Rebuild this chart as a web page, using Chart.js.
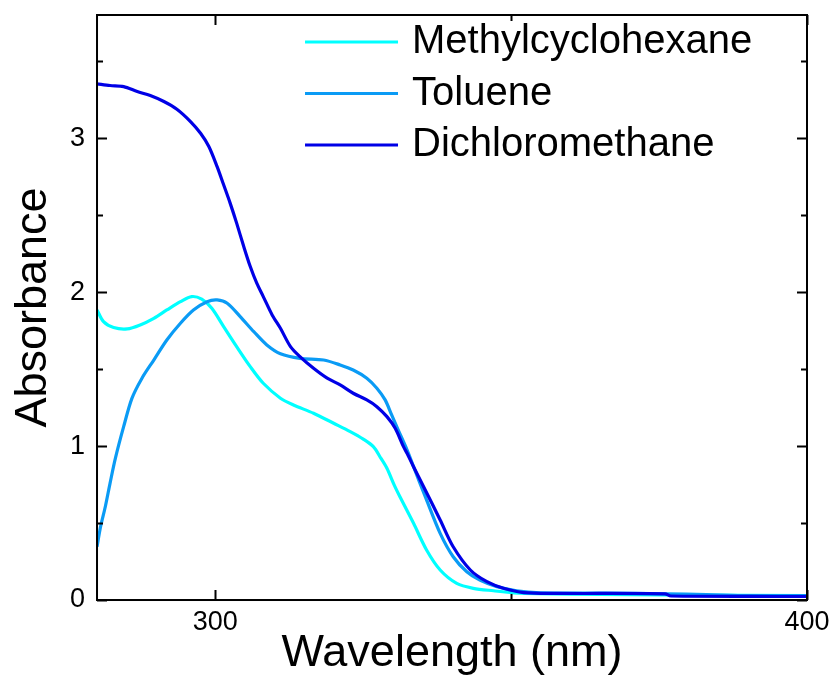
<!DOCTYPE html>
<html>
<head>
<meta charset="utf-8">
<script src="https://cdn.jsdelivr.net/npm/chart.js@4.4.1/dist/chart.umd.min.js"></script>
<style>
  html, body { margin: 0; padding: 0; background: #fff; }
  #wrap { width: 836px; height: 684px; position: relative; }
</style>
</head>
<body>
<div id="wrap"><canvas id="absChart"></canvas></div>
<script>
const FONT = "'Liberation Sans', Arial, Helvetica, sans-serif";

// wavelength (nm) / absorbance pairs for each solvent
const mchWl  = [280, 281.1, 282.8, 285.1, 287.3, 289.6, 291.8, 294.1, 296.0, 297.7, 299.4, 301.4, 303.6, 305.9, 308.1, 311.0, 313.2, 316.6, 320.0, 322.8, 325.0, 326.7, 328.0, 329.0, 330.2, 331.2, 333.5, 335.7, 338.0, 340.8, 343.6, 347.0, 350.4, 360, 380, 400];
const mchAbs = [1.884, 1.808, 1.770, 1.761, 1.787, 1.830, 1.884, 1.938, 1.971, 1.954, 1.895, 1.776, 1.646, 1.516, 1.408, 1.311, 1.267, 1.213, 1.148, 1.094, 1.045, 0.996, 0.920, 0.856, 0.750, 0.671, 0.498, 0.325, 0.195, 0.108, 0.076, 0.060, 0.047, 0.038, 0.032, 0.028];

const tolWl  = [280, 280.6, 281.4, 282.2, 283.1, 284.5, 285.9, 287.6, 289.6, 291.8, 294.1, 296.3, 298.6, 300.3, 302.0, 304.2, 306.5, 308.7, 311.0, 314.3, 318.3, 321.1, 323.3, 325.6, 327.3, 328.7, 329.8, 330.9, 332.4, 333.5, 335.6, 338.0, 340.2, 342.5, 344.7, 347.6, 350.9, 354.9, 366, 376, 383, 390, 400];
const tolAbs = [0.346, 0.476, 0.606, 0.758, 0.920, 1.126, 1.310, 1.441, 1.559, 1.689, 1.798, 1.884, 1.938, 1.949, 1.928, 1.841, 1.743, 1.657, 1.600, 1.570, 1.559, 1.527, 1.494, 1.441, 1.376, 1.300, 1.202, 1.105, 0.975, 0.866, 0.660, 0.433, 0.281, 0.184, 0.130, 0.087, 0.060, 0.047, 0.045, 0.040, 0.035, 0.028, 0.025];

const dcmWl  = [280, 282.2, 284.5, 286.8, 289.0, 291.3, 293.5, 295.8, 297.5, 298.9, 300.3, 301.4, 302.5, 303.6, 304.8, 305.9, 307.0, 308.1, 309.6, 311.0, 312.7, 314.3, 316.6, 318.9, 321.1, 323.3, 325.6, 327.3, 329.0, 330.4, 331.8, 332.4, 333.5, 335.2, 338.0, 340.2, 343.1, 345.9, 348.7, 352.1, 357.7, 376, 377, 400];
const dcmAbs = [3.353, 3.342, 3.335, 3.303, 3.277, 3.238, 3.188, 3.108, 3.032, 2.946, 2.815, 2.697, 2.578, 2.448, 2.296, 2.166, 2.058, 1.971, 1.852, 1.765, 1.646, 1.581, 1.505, 1.441, 1.397, 1.343, 1.300, 1.256, 1.191, 1.116, 0.996, 0.953, 0.866, 0.736, 0.520, 0.346, 0.195, 0.119, 0.076, 0.048, 0.043, 0.040, 0.026, 0.024];

const solvents = ['Methylcyclohexane', 'Toluene', 'Dichloromethane'];
const colors   = ['#00FFFF', '#0A9BF5', '#0000E6'];

const xMajor = [300, 400];
const xMinor = [350];
const yMajor = [0, 1, 2, 3];
const yMinor = [0.5, 1.5, 2.5, 3.5];

function pairs(xs, ys) {
  return xs.map((x, i) => ({ x: x, y: ys[i] }));
}

// box around the plot with inward tick marks on all four sides, plus the legend
const framePlugin = {
  id: 'frame',
  afterDraw(chart) {
    const { ctx, chartArea: a, scales } = chart;
    ctx.save();
    ctx.strokeStyle = '#000';
    ctx.lineWidth = 2;
    ctx.strokeRect(a.left, a.top, a.right - a.left, a.bottom - a.top);

    ctx.beginPath();
    const xt = (v, len) => {
      const px = Math.round(scales.x.getPixelForValue(v)) + 0.5;
      ctx.moveTo(px, a.bottom); ctx.lineTo(px, a.bottom - len);
      ctx.moveTo(px, a.top);    ctx.lineTo(px, a.top + len);
    };
    const yt = (v, len) => {
      const py = Math.round(scales.y.getPixelForValue(v)) + 0.5;
      ctx.moveTo(a.left, py);  ctx.lineTo(a.left + len, py);
      ctx.moveTo(a.right, py); ctx.lineTo(a.right - len, py);
    };
    xMajor.forEach(v => xt(v, 10));
    xMinor.forEach(v => xt(v, 6));
    yMajor.forEach(v => yt(v, 10));
    yMinor.forEach(v => yt(v, 6));
    ctx.lineWidth = 2;
    ctx.stroke();

    // legend
    const lx = a.left + 208, tx = a.left + 315;
    ctx.font = '40px ' + FONT;
    ctx.textBaseline = 'middle';
    ctx.textAlign = 'left';
    chart.data.datasets.forEach((ds, i) => {
      const ly = a.top + 27 + i * 51.5;
      ctx.strokeStyle = ds.borderColor;
      ctx.lineWidth = 3;
      ctx.beginPath();
      ctx.moveTo(lx, ly); ctx.lineTo(lx + 93, ly);
      ctx.stroke();
      ctx.fillStyle = '#000';
      ctx.fillText(ds.label, tx, ly);
    });
    ctx.restore();
  }
};

new Chart(document.getElementById('absChart'), {
  type: 'line',
  data: {
    datasets: [
      { label: solvents[0], data: pairs(mchWl, mchAbs), borderColor: colors[0], order: 3 },
      { label: solvents[1], data: pairs(tolWl, tolAbs), borderColor: colors[1], order: 2 },
      { label: solvents[2], data: pairs(dcmWl, dcmAbs), borderColor: colors[2], order: 1 }
    ].map(ds => Object.assign(ds, {
      borderWidth: 3.2,
      pointRadius: 0,
      tension: 0.3,
      fill: false
    }))
  },
  options: {
    responsive: true,
    maintainAspectRatio: false,
    animation: false,
    layout: { padding: { top: 15, right: 29, left: 7, bottom: 0 } },
    plugins: {
      legend: { display: false },
      tooltip: { enabled: false }
    },
    scales: {
      x: {
        type: 'linear',
        min: 280,
        max: 400,
        afterBuildTicks: scale => { scale.ticks = xMajor.map(v => ({ value: v })); },
        grid: { display: false, drawTicks: false },
        border: { display: false },
        ticks: {
          color: '#000',
          padding: 2.75,
          maxRotation: 0,
          autoSkip: false,
          font: { family: FONT, size: 27, lineHeight: 1.5 }
        },
        title: {
          display: true,
          text: 'Wavelength (nm)',
          color: '#000',
          font: { family: FONT, size: 45, lineHeight: 0.333 },
          padding: { top: 0, bottom: 23 }
        }
      },
      y: {
        min: 0,
        max: 3.8,
        afterBuildTicks: scale => { scale.ticks = yMajor.map(v => ({ value: v })); },
        grid: { display: false, drawTicks: false },
        border: { display: false },
        ticks: {
          color: '#000',
          padding: 12,
          font: { family: FONT, size: 27, lineHeight: 0.2 }
        },
        title: {
          display: true,
          text: 'Absorbance',
          color: '#000',
          font: { family: FONT, size: 45, lineHeight: 1.2 },
          padding: { top: 0, bottom: -3 }
        }
      }
    }
  },
  plugins: [framePlugin]
});
</script>
</body>
</html>
